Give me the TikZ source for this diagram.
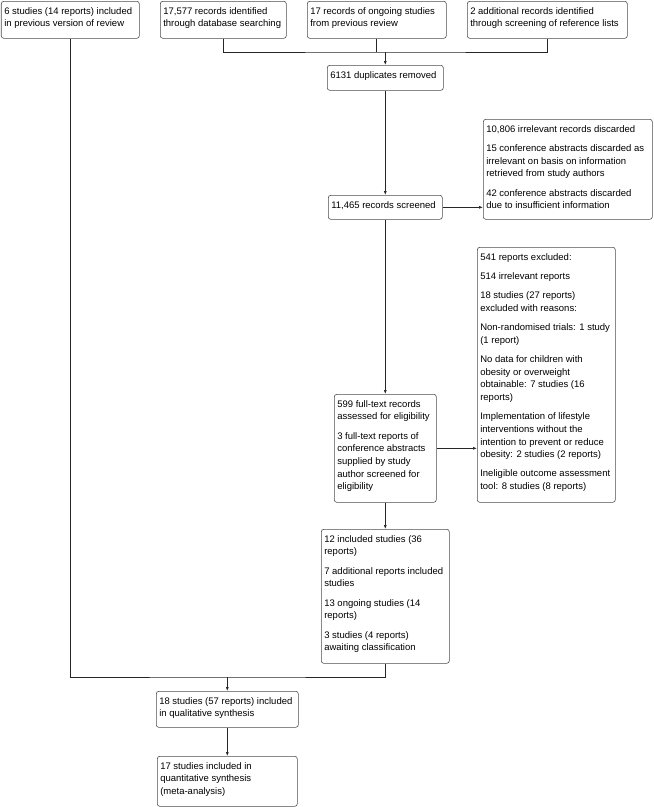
\documentclass[tikz,border=0pt]{standalone}
\usepackage{fontspec}
\setmainfont{Liberation Sans}
\usetikzlibrary{arrows.meta, calc}
\tikzset{
  flowbox/.style={
    draw=black!70, line width=0.6pt, rounded corners=2.5pt,
    anchor=north west, inner xsep=3pt, inner ysep=0pt,
    font=\fontsize{9.5}{12.6}\selectfont
  },
  flowline/.style={draw=black!85, line width=0.7pt},
  flowarrow/.style={flowline, -{Latex[length=4pt,width=3pt]}},
}
% fixed-size box text, top aligned
\newcommand{\flowtext}[3]{%
  \parbox[t][#2][t]{#1}{\raggedright\rule{0pt}{13pt}#3}}
\newcommand{\pgap}{\\[6.7pt]}

\begin{document}
\begin{tikzpicture}[x=1pt, y=-1pt]
  \useasboundingbox (0,0) rectangle (654,807);
  % sources
  \node[flowbox] (prev) at (1,1) {\flowtext{132pt}{37pt}{6 studies (14 reports) included\\in previous version of review}};
  \node[flowbox] (dbase) at (160,1) {\flowtext{120pt}{37pt}{17,577 records identified\\through database searching}};
  \node[flowbox] (ongoing) at (307,1) {\flowtext{133pt}{37pt}{17 records of ongoing studies\\from previous review}};
  \node[flowbox] (reflists) at (467,1) {\flowtext{154pt}{37pt}{2 additional records identified\\through screening of reference lists}};
  % screening
  \node[flowbox] (dupes) at (327,65) {\flowtext{110pt}{25pt}{6131 duplicates removed}};
  \node[flowbox] (screened) at (328,195) {\flowtext{108pt}{24pt}{11,465 records screened}};
  \node[flowbox] (discarded) at (483,119) {\flowtext{163pt}{100pt}{10,806 irrelevant records discarded\pgap
    15 conference abstracts discarded as\\irrelevant on basis on information\\retrieved from study authors\pgap
    42 conference abstracts discarded\\due to insufficient information}};
  % eligibility
  \node[flowbox] (fulltext) at (334,394) {\flowtext{96pt}{108pt}{599 full-text records\\assessed for eligibility\pgap
    3 full-text reports of\\conference abstracts\\supplied by study\\author screened for\\eligibility}};
  \node[flowbox] (excluded) at (477,247) {\flowtext{132pt}{255pt}{541 reports excluded:\pgap
    514 irrelevant reports\pgap
    18 studies (27 reports)\\excluded with reasons:\pgap
    Non-randomised trials: 1 study\\(1 report)\pgap
    No data for children with\\obesity or overweight\\obtainable: 7 studies (16\\reports)\pgap
    Implementation of lifestyle\\interventions without the\\intention to prevent or reduce\\obesity: 2 studies (2 reports)\pgap
    Ineligible outcome assessment\\tool: 8 studies (8 reports)}};
  % included
  \node[flowbox] (included) at (321,529) {\flowtext{122pt}{134pt}{12 included studies (36\\reports)\pgap
    7 additional reports included\\studies\pgap
    13 ongoing studies (14\\reports)\pgap
    3 studies (4 reports)\\awaiting classification}};
  \node[flowbox] (qualit) at (156,691) {\flowtext{136pt}{36pt}{18 studies (57 reports) included\\in qualitative synthesis}};
  \node[flowbox] (quantit) at (157,756) {\flowtext{134pt}{50pt}{17 studies included in\\quantitative synthesis\\(meta-analysis)}};

  % connectors
  \coordinate (srcjoin) at ($(dupes.north)+(0,-13)$);
  \draw[flowline] (dbase.south) |- (srcjoin) -| (reflists.south);
  \draw[flowline] (ongoing.south) -- (ongoing.south |- srcjoin);
  \draw[flowarrow] (srcjoin) -- (dupes.north);
  \draw[flowarrow] (dupes.south) -- (screened.north);
  \draw[flowarrow] (screened.east) -- (screened.east -| discarded.west);
  \draw[flowarrow] (screened.south) -- (fulltext.north);
  \draw[flowarrow] (fulltext.east) -- (fulltext.east -| excluded.west);
  \draw[flowarrow] (fulltext.south) -- (included.north);
  \coordinate (synjoin) at ($(qualit.north)+(0,-14)$);
  \draw[flowline] (included.south) |- (synjoin) -| (prev.south);
  \draw[flowarrow] (synjoin) -- (qualit.north);
  \draw[flowarrow] (qualit.south) -- (quantit.north);
\end{tikzpicture}
\end{document}
